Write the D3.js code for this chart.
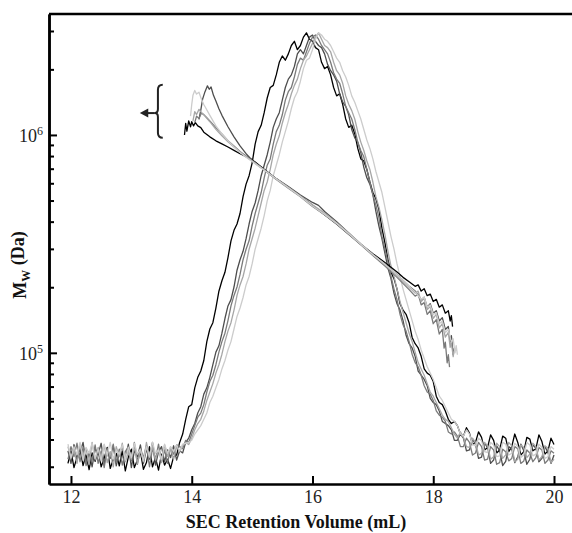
<!DOCTYPE html>
<html lang="en">
  <head>
    <meta charset="UTF-8" />
    <title>SEC-MALS Mw traces</title>
    <script src="https://d3js.org/d3.v7.min.js"></script>
    <style>
      body {
        margin: 0;
        background: #fff;
      }
      .trace {
        fill: none;
        stroke-width: 1.3px;
        stroke-linejoin: round;
      }
      .axis text {
        font-family: "Liberation Serif", serif;
        font-size: 18px;
        fill: #222;
      }
      .axis path,
      .axis line {
        stroke: #000;
      }
      .title {
        font-family: "Liberation Serif", serif;
        font-weight: bold;
        font-size: 18px;
        fill: #111;
      }
    </style>
  </head>
  <body>
    <svg id="chart" width="572" height="533"></svg>

    <script>
      // retention volume grid (mL) for the RI traces
      const volume = [
        11.95, 12.0, 12.05, 12.1, 12.15, 12.2, 12.25, 12.3, 12.35, 12.4,
        12.45, 12.5, 12.55, 12.6, 12.65, 12.7, 12.75, 12.8, 12.85, 12.9,
        12.95, 13.0, 13.05, 13.1, 13.15, 13.2, 13.25, 13.3, 13.35, 13.4,
        13.45, 13.5, 13.55, 13.6, 13.65, 13.7, 13.75, 13.8, 13.85, 13.9,
        13.95, 14.0, 14.05, 14.1, 14.15, 14.2, 14.25, 14.3, 14.35, 14.4,
        14.45, 14.5, 14.55, 14.6, 14.65, 14.7, 14.75, 14.8, 14.85, 14.9,
        14.95, 15.0, 15.05, 15.1, 15.15, 15.2, 15.25, 15.3, 15.35, 15.4,
        15.45, 15.5, 15.55, 15.6, 15.65, 15.7, 15.75, 15.8, 15.85, 15.9,
        15.95, 16.0, 16.05, 16.1, 16.15, 16.2, 16.25, 16.3, 16.35, 16.4,
        16.45, 16.5, 16.55, 16.6, 16.65, 16.7, 16.75, 16.8, 16.85, 16.9,
        16.95, 17.0, 17.05, 17.1, 17.15, 17.2, 17.25, 17.3, 17.35, 17.4,
        17.45, 17.5, 17.55, 17.6, 17.65, 17.7, 17.75, 17.8, 17.85, 17.9,
        17.95, 18.0, 18.05, 18.1, 18.15, 18.2, 18.25, 18.3, 18.35, 18.4,
        18.45, 18.5, 18.55, 18.6, 18.65, 18.7, 18.75, 18.8, 18.85, 18.9,
        18.95, 19.0, 19.05, 19.1, 19.15, 19.2, 19.25, 19.3, 19.35, 19.4,
        19.45, 19.5, 19.55, 19.6, 19.65, 19.7, 19.75, 19.8, 19.85, 19.9,
        19.95, 20.0,
      ];

      // normalised RI signal, one array per sample
      const riA = [
        -0.02, 0.01, -0.03, -0.005, 0.015, -0.025, 0.0, -0.035, 0.005, -0.015,
        0.012, -0.028, -0.008, 0.018, -0.032, -0.01, 0.004, -0.026, 0.01, -0.038,
        -0.005, 0.014, -0.03, -0.012, 0.008, -0.034, -0.018, 0.02, -0.028, -0.006,
        -0.036, 0.002, -0.024, -0.01, -0.032, -0.004, 0.0, 0.03, 0.05, 0.085,
        0.115, 0.12, 0.16, 0.185, 0.2, 0.225, 0.27, 0.3, 0.315, 0.35,
        0.39, 0.415, 0.435, 0.47, 0.51, 0.535, 0.55, 0.575, 0.615, 0.645,
        0.665, 0.695, 0.74, 0.77, 0.785, 0.815, 0.85, 0.875, 0.88, 0.905,
        0.935, 0.95, 0.94, 0.955, 0.975, 0.985, 0.965, 0.975, 0.995, 1.005,
        0.99, 0.985, 0.97, 0.965, 0.935, 0.92, 0.925, 0.905, 0.875, 0.855,
        0.86, 0.835, 0.8, 0.78, 0.785, 0.765, 0.73, 0.705, 0.7, 0.68,
        0.65, 0.625, 0.61, 0.585, 0.54, 0.505, 0.465, 0.435, 0.42, 0.395,
        0.36, 0.345, 0.335, 0.315, 0.28, 0.265, 0.255, 0.235, 0.205, 0.195,
        0.19, 0.175, 0.14, 0.125, 0.12, 0.105, 0.085, 0.075, 0.08, 0.07,
        0.05, 0.045, 0.065, 0.052, 0.025, 0.03, 0.055, 0.042, 0.012, 0.018,
        0.048, 0.035, 0.005, 0.012, 0.045, 0.04, 0.008, 0.02, 0.05, 0.03,
        0.0, 0.008, 0.042, 0.038, 0.01, 0.015, 0.048, 0.032, 0.002, 0.01,
        0.04, 0.025,
      ];
      const riB = [
        0.01, -0.02, 0.025, -0.01, 0.005, 0.03, -0.018, 0.008, -0.028, 0.015,
        0.002, 0.028, -0.022, 0.012, -0.008, 0.022, -0.026, 0.006, 0.018, -0.014,
        0.026, -0.03, 0.01, -0.004, 0.024, -0.02, 0.014, -0.01, 0.03, -0.024,
        0.008, 0.02, -0.016, 0.012, -0.006, 0.022, -0.012, 0.01, 0.005, 0.03,
        0.04, 0.06, 0.075, 0.1, 0.115, 0.145, 0.16, 0.185, 0.215, 0.245,
        0.26, 0.29, 0.325, 0.355, 0.37, 0.4, 0.44, 0.465, 0.485, 0.515,
        0.55, 0.58, 0.6, 0.63, 0.665, 0.69, 0.715, 0.745, 0.78, 0.8,
        0.815, 0.845, 0.875, 0.895, 0.905, 0.925, 0.955, 0.965, 0.955, 0.975,
        0.995, 1.0, 0.985, 0.975, 0.97, 0.955, 0.93, 0.915, 0.905, 0.89,
        0.86, 0.84, 0.83, 0.81, 0.775, 0.755, 0.745, 0.72, 0.685, 0.66,
        0.645, 0.62, 0.58, 0.545, 0.515, 0.48, 0.445, 0.42, 0.385, 0.36,
        0.345, 0.32, 0.285, 0.265, 0.255, 0.235, 0.2, 0.19, 0.18, 0.165,
        0.135, 0.125, 0.12, 0.105, 0.08, 0.075, 0.07, 0.06, 0.035, 0.035,
        0.05, 0.04, 0.01, 0.012, 0.038, 0.025, -0.008, -0.005, 0.028, 0.018,
        -0.02, -0.012, 0.022, 0.01, -0.025, -0.015, 0.02, 0.014, -0.018, -0.004,
        0.026, 0.01, -0.022, -0.01, 0.024, 0.016, -0.016, -0.008, 0.02, 0.006,
        -0.02, 0.0,
      ];
      const riC = [
        -0.01, 0.02, -0.004, 0.028, -0.016, 0.018, -0.025, 0.006, -0.012, 0.024,
        -0.02, 0.01, -0.03, 0.016, -0.004, 0.026, -0.018, 0.014, -0.024, 0.008,
        0.02, -0.014, 0.03, -0.022, 0.012, -0.006, 0.022, -0.028, 0.016, -0.01,
        0.026, -0.016, 0.012, -0.02, 0.018, 0.002, 0.024, 0.02, 0.015, 0.035,
        0.03, 0.05, 0.07, 0.09, 0.1, 0.12, 0.15, 0.175, 0.19, 0.215,
        0.245, 0.27, 0.29, 0.32, 0.355, 0.38, 0.4, 0.43, 0.465, 0.49,
        0.51, 0.545, 0.575, 0.6, 0.625, 0.66, 0.69, 0.705, 0.74, 0.77,
        0.785, 0.81, 0.845, 0.865, 0.875, 0.9, 0.93, 0.945, 0.94, 0.96,
        0.98, 0.995, 1.0, 0.99, 0.975, 0.965, 0.955, 0.935, 0.91, 0.895,
        0.885, 0.86, 0.83, 0.815, 0.8, 0.775, 0.745, 0.725, 0.71, 0.68,
        0.65, 0.62, 0.595, 0.565, 0.52, 0.49, 0.46, 0.425, 0.395, 0.37,
        0.335, 0.31, 0.295, 0.27, 0.24, 0.22, 0.21, 0.19, 0.165, 0.15,
        0.145, 0.13, 0.105, 0.095, 0.09, 0.08, 0.055, 0.05, 0.055, 0.045,
        0.02, 0.02, 0.04, 0.03, 0.0, 0.005, 0.03, 0.02, -0.012, -0.01,
        0.02, 0.012, -0.022, -0.018, 0.014, 0.008, -0.014, -0.008, 0.02, 0.015,
        -0.02, -0.014, 0.012, 0.005, -0.016, -0.006, 0.018, 0.012, -0.02, -0.012,
        0.01, 0.004,
      ];
      const riD = [
        0.02, -0.008, 0.012, -0.02, 0.026, -0.004, 0.016, -0.022, 0.03, -0.012,
        0.018, -0.006, 0.024, -0.018, 0.008, -0.028, 0.02, -0.004, 0.028, -0.016,
        0.006, -0.01, 0.022, -0.02, 0.012, -0.016, 0.03, -0.006, 0.02, -0.012,
        0.014, -0.018, 0.024, -0.004, 0.016, -0.01, 0.02, 0.008, 0.022, 0.03,
        0.025, 0.04, 0.06, 0.075, 0.085, 0.105, 0.13, 0.15, 0.17, 0.195,
        0.215, 0.24, 0.27, 0.295, 0.315, 0.345, 0.38, 0.405, 0.425, 0.455,
        0.49, 0.515, 0.54, 0.57, 0.6, 0.63, 0.65, 0.68, 0.715, 0.74,
        0.76, 0.79, 0.815, 0.835, 0.86, 0.88, 0.895, 0.92, 0.94, 0.95,
        0.965, 0.98, 0.995, 1.005, 0.99, 0.975, 0.97, 0.96, 0.935, 0.915,
        0.905, 0.885, 0.855, 0.835, 0.82, 0.8, 0.77, 0.745, 0.725, 0.7,
        0.68, 0.65, 0.615, 0.59, 0.56, 0.525, 0.485, 0.45, 0.425, 0.395,
        0.365, 0.34, 0.315, 0.29, 0.27, 0.245, 0.22, 0.205, 0.19, 0.17,
        0.15, 0.14, 0.125, 0.11, 0.095, 0.085, 0.08, 0.065, 0.05, 0.04,
        0.055, 0.042, 0.02, 0.018, 0.04, 0.03, 0.0, 0.004, 0.03, 0.022,
        -0.01, -0.004, 0.028, 0.02, -0.008, 0.0, 0.03, 0.022, -0.016, -0.01,
        0.024, 0.018, -0.006, 0.002, 0.028, 0.02, -0.012, -0.004, 0.022, 0.016,
        -0.018, -0.01,
      ];
      const riE = [
        0.026, -0.006, 0.02, 0.0, 0.03, -0.012, 0.018, 0.004, 0.028, -0.008,
        0.014, -0.014, 0.026, 0.0, 0.03, -0.01, 0.012, 0.002, 0.024, -0.012,
        0.018, -0.006, 0.028, 0.002, 0.014, -0.014, 0.02, -0.004, 0.03, 0.004,
        0.012, -0.01, 0.026, 0.004, 0.02, 0.008, 0.024, 0.01, 0.026, 0.028,
        0.03, 0.035, 0.05, 0.06, 0.07, 0.085, 0.1, 0.125, 0.14, 0.16,
        0.18, 0.205, 0.225, 0.25, 0.27, 0.3, 0.33, 0.35, 0.375, 0.405,
        0.425, 0.455, 0.49, 0.515, 0.54, 0.57, 0.605, 0.63, 0.665, 0.69,
        0.715, 0.745, 0.77, 0.795, 0.825, 0.85, 0.865, 0.89, 0.92, 0.94,
        0.945, 0.965, 0.99, 1.005, 1.0, 0.99, 0.985, 0.975, 0.96, 0.945,
        0.935, 0.915, 0.9, 0.88, 0.855, 0.84, 0.82, 0.8, 0.775, 0.75,
        0.73, 0.705, 0.675, 0.65, 0.625, 0.59, 0.555, 0.52, 0.49, 0.455,
        0.425, 0.395, 0.37, 0.345, 0.32, 0.295, 0.275, 0.25, 0.23, 0.21,
        0.195, 0.18, 0.16, 0.14, 0.13, 0.115, 0.1, 0.085, 0.08, 0.07,
        0.05, 0.045, 0.06, 0.05, 0.025, 0.022, 0.04, 0.034, 0.008, 0.006,
        0.03, 0.024, -0.004, -0.002, 0.03, 0.026, 0.0, 0.004, 0.028, 0.02,
        -0.006, 0.0, 0.03, 0.024, -0.002, 0.002, 0.026, 0.018, -0.008, -0.004,
        0.02, 0.014,
      ];

      // molar mass across the peak: [volume mL, Mw in 1e5 Da]
      const mwA = [
        [13.88, 10.0], [13.9, 11.3], [13.92, 10.4], [13.95, 11.6], [13.98, 10.9],
        [14.0, 11.5], [14.03, 11.0], [14.06, 11.4], [14.1, 11.0], [14.15, 10.8],
        [14.2, 10.3], [14.3, 9.8], [14.4, 9.4], [14.5, 9.1], [14.6, 8.8],
        [14.7, 8.5], [14.8, 8.2], [14.9, 7.95], [15.0, 7.7], [15.2, 6.95],
        [15.4, 6.3], [15.6, 5.75], [15.8, 5.25], [16.0, 4.75], [16.2, 4.3],
        [16.4, 3.9], [16.6, 3.5], [16.8, 3.15], [17.0, 2.85], [17.2, 2.6],
        [17.4, 2.35], [17.5, 2.22], [17.6, 2.12], [17.7, 2.02], [17.75, 2.05],
        [17.8, 1.92], [17.85, 1.97], [17.9, 1.83], [17.95, 1.86], [18.0, 1.72],
        [18.05, 1.76], [18.1, 1.62], [18.15, 1.66], [18.2, 1.52], [18.25, 1.56],
        [18.28, 1.4], [18.3, 1.48], [18.32, 1.32],
      ];
      const mwB = [
        [14.12, 11.8], [14.15, 13.0], [14.18, 14.6], [14.22, 15.8], [14.26, 16.8],
        [14.29, 16.2], [14.32, 16.6], [14.36, 15.2], [14.4, 14.3], [14.45, 13.2],
        [14.5, 12.3], [14.6, 10.9], [14.7, 9.8], [14.8, 8.9], [14.9, 8.2],
        [15.0, 7.65], [15.2, 6.9], [15.4, 6.3], [15.6, 5.8], [15.8, 5.3],
        [16.0, 4.9], [16.1, 4.75], [16.2, 4.45], [16.4, 4.0], [16.6, 3.55],
        [16.8, 3.15], [17.0, 2.82], [17.2, 2.55], [17.4, 2.28], [17.6, 2.02],
        [17.7, 1.92], [17.8, 1.75], [17.85, 1.8], [17.9, 1.62], [17.95, 1.68],
        [18.0, 1.52], [18.05, 1.56], [18.1, 1.4], [18.15, 1.45], [18.2, 1.28],
        [18.25, 1.32], [18.28, 1.12], [18.3, 1.2], [18.33, 0.98], [18.35, 1.05],
      ];
      const mwC = [
        [14.05, 11.4], [14.08, 12.2], [14.12, 11.9], [14.16, 12.6], [14.2, 12.4],
        [14.25, 12.0], [14.3, 11.6], [14.4, 10.8], [14.5, 10.1], [14.6, 9.4],
        [14.7, 8.9], [14.8, 8.4], [14.9, 8.0], [15.0, 7.6], [15.2, 6.9],
        [15.4, 6.25], [15.6, 5.7], [15.8, 5.2], [16.0, 4.7], [16.2, 4.3],
        [16.4, 3.9], [16.6, 3.5], [16.8, 3.13], [17.0, 2.8], [17.2, 2.5],
        [17.4, 2.22], [17.6, 1.95], [17.7, 1.82], [17.75, 1.86], [17.8, 1.66],
        [17.85, 1.7], [17.9, 1.5], [17.95, 1.56], [18.0, 1.36], [18.05, 1.42],
        [18.1, 1.22], [18.15, 1.28], [18.18, 1.05], [18.2, 1.12], [18.23, 0.9],
        [18.25, 0.98], [18.27, 0.86],
      ];
      const mwD = [
        [14.02, 11.6], [14.05, 12.8], [14.08, 12.4], [14.12, 13.1], [14.16, 12.7],
        [14.22, 12.2], [14.3, 11.5], [14.4, 10.6], [14.5, 9.9], [14.6, 9.3],
        [14.7, 8.8], [14.8, 8.35], [14.9, 7.95], [15.0, 7.6], [15.2, 6.92],
        [15.4, 6.3], [15.6, 5.75], [15.8, 5.25], [16.0, 4.78], [16.2, 4.38],
        [16.4, 3.95], [16.6, 3.55], [16.8, 3.17], [17.0, 2.83], [17.2, 2.54],
        [17.4, 2.26], [17.6, 2.0], [17.7, 1.88], [17.75, 1.92], [17.8, 1.72],
        [17.85, 1.78], [17.9, 1.58], [17.95, 1.63], [18.0, 1.44], [18.05, 1.5],
        [18.1, 1.3], [18.15, 1.36], [18.2, 1.18], [18.25, 1.24], [18.28, 1.06],
        [18.3, 1.12], [18.33, 0.96], [18.35, 1.04],
      ];
      const mwE = [
        [13.98, 12.2], [14.0, 13.8], [14.02, 15.2], [14.05, 16.0], [14.08, 15.4],
        [14.12, 15.7], [14.16, 14.6], [14.2, 13.8], [14.3, 12.3], [14.4, 11.0],
        [14.5, 10.1], [14.6, 9.4], [14.7, 8.8], [14.8, 8.3], [14.9, 7.9],
        [15.0, 7.55], [15.2, 6.88], [15.4, 6.28], [15.6, 5.72], [15.8, 5.22],
        [16.0, 4.72], [16.2, 4.32], [16.4, 3.92], [16.6, 3.52], [16.8, 3.15],
        [17.0, 2.82], [17.2, 2.55], [17.4, 2.28], [17.6, 2.02], [17.7, 1.9],
        [17.8, 1.76], [17.85, 1.8], [17.9, 1.62], [17.95, 1.66], [18.0, 1.5],
        [18.05, 1.53], [18.1, 1.36], [18.15, 1.4], [18.2, 1.24], [18.25, 1.28],
        [18.3, 1.12], [18.33, 1.16], [18.36, 1.0], [18.38, 1.08], [18.4, 0.98],
      ];

      const colors = ["#000000", "#4d4d4d", "#7a7a7a", "#a6a6a6", "#cccccc"];
      const riSeries = [riA, riB, riC, riD, riE];
      const mwSeries = [mwA, mwB, mwC, mwD, mwE];

      const xTicks = [12, 14, 16, 18, 20];
      const yMajor = [1e5, 1e6];
      const yMinor = [
        3e4, 4e4, 5e4, 6e4, 7e4, 8e4, 9e4,
        2e5, 3e5, 4e5, 5e5, 6e5, 7e5, 8e5, 9e5,
        2e6, 3e6,
      ];

      const svg = d3.select("#chart");
      const margin = { top: 14, right: 0, bottom: 49, left: 49 };
      const width = +svg.attr("width") - margin.left - margin.right;
      const height = +svg.attr("height") - margin.top - margin.bottom;
      const g = svg
        .append("g")
        .attr("transform", `translate(${margin.left},${margin.top})`);

      const x = d3.scaleLinear().domain([11.636, 20.298]).range([0, width]);
      const y = d3.scaleLog().domain([2.5e4, 3.59e6]).range([height, 0]);
      // RI detector signal shares the plot on a hidden linear scale
      const yRI = d3.scaleLinear().domain([-0.069, 1.05]).range([height, 0]);

      g.append("clipPath")
        .attr("id", "clip")
        .append("rect")
        .attr("width", width)
        .attr("height", height);

      const plot = g.append("g").attr("clip-path", "url(#clip)");

      const riLine = d3
        .line()
        .x((d, i) => x(volume[i]))
        .y((d) => yRI(d));
      const mwLine = d3
        .line()
        .x((d) => x(d[0]))
        .y((d) => y(d[1] * 1e5));

      riSeries.forEach((s, i) => {
        plot
          .append("path")
          .datum(s)
          .attr("class", "trace")
          .attr("stroke", colors[i])
          .attr("d", riLine);
      });
      mwSeries.forEach((s, i) => {
        plot
          .append("path")
          .datum(s)
          .attr("class", "trace")
          .attr("stroke", colors[i])
          .attr("d", mwLine);
      });

      // bracket + arrow pointing at the Mw axis
      const bR = x(13.52),
        bS = x(13.44),
        bT = x(13.39);
      const yT = y(1.7e6),
        yB = y(0.97e6),
        yM = y(1.26e6);
      g.append("path")
        .attr(
          "d",
          `M${bR},${yT} Q${bS},${yT} ${bS},${yT + 5} L${bS},${yM - 4} Q${bS},${yM} ${bT},${yM}` +
            ` Q${bS},${yM} ${bS},${yM + 4} L${bS},${yB - 5} Q${bS},${yB} ${bR},${yB}`
        )
        .attr("fill", "none")
        .attr("stroke", "#222")
        .attr("stroke-width", 2);
      g.append("line")
        .attr("x1", bT)
        .attr("x2", x(13.25))
        .attr("y1", yM)
        .attr("y2", yM)
        .attr("stroke", "#222")
        .attr("stroke-width", 2);
      g.append("path")
        .attr(
          "d",
          `M${x(13.14)},${yM} L${x(13.28)},${yM - 4.5} L${x(13.28)},${yM + 4.5} Z`
        )
        .attr("fill", "#222");

      // axes
      const yMinorAxis = g
        .append("g")
        .attr("class", "axis")
        .call(
          d3.axisLeft(y).tickValues(yMinor).tickSizeInner(-5).tickSizeOuter(0).tickFormat("")
        );
      const yAxis = g
        .append("g")
        .attr("class", "axis")
        .call(
          d3.axisLeft(y).tickValues(yMajor).tickSizeInner(-8).tickSizeOuter(0).tickFormat("")
        );
      [yMinorAxis, yAxis].forEach((a) => {
        a.select(".domain").attr("stroke-width", 2.5);
        a.selectAll(".tick line").attr("stroke-width", 2);
      });
      yAxis.selectAll(".tick").each(function (d) {
        const t = d3
          .select(this)
          .append("text")
          .attr("x", -6)
          .attr("dy", "0.35em")
          .attr("text-anchor", "end")
          .attr("fill", "#222");
        t.append("tspan").text("10");
        t.append("tspan")
          .attr("dy", "-0.55em")
          .attr("font-size", "12px")
          .text(Math.round(Math.log10(d)));
      });

      const xAxis = g
        .append("g")
        .attr("class", "axis")
        .attr("transform", `translate(0,${height})`)
        .call(
          d3.axisBottom(x).tickValues(xTicks).tickSizeInner(-8).tickSizeOuter(0).tickPadding(6)
        );
      xAxis.select(".domain").attr("stroke-width", 2.5);
      xAxis.selectAll(".tick line").attr("stroke-width", 2);

      g.append("line")
        .attr("x1", 0)
        .attr("x2", width)
        .attr("y1", 0)
        .attr("y2", 0)
        .attr("stroke", "#000")
        .attr("stroke-width", 2.5);

      // titles
      svg
        .append("text")
        .attr("class", "title")
        .attr("x", 296)
        .attr("y", 528)
        .attr("text-anchor", "middle")
        .text("SEC Retention Volume (mL)");

      const yt = svg
        .append("text")
        .attr("class", "title")
        .attr("transform", "translate(26,265) rotate(-90)")
        .attr("text-anchor", "middle");
      yt.append("tspan").text("M");
      yt.append("tspan").attr("font-size", "12px").attr("dy", "0.3em").text("W");
      yt.append("tspan").attr("dy", "-0.3em").text(" (Da)");
    </script>
  </body>
</html>
